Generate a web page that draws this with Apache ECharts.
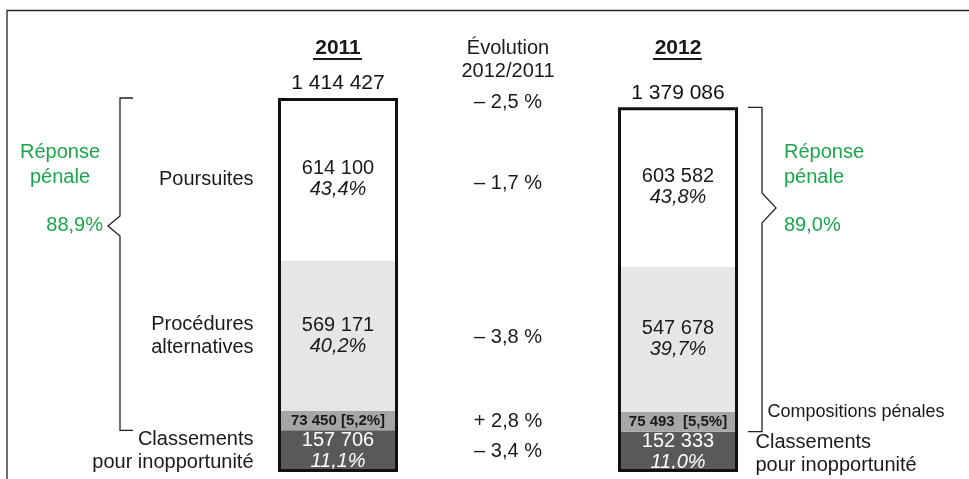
<!DOCTYPE html>
<html>
<head>
<meta charset="utf-8">
<script src="https://cdn.jsdelivr.net/npm/echarts@6/dist/echarts.min.js"></script>
<style>html,body{margin:0;padding:0;background:#fff}</style>
</head>
<body>
<div id="MyChart" style="width:969px;height:479px"></div>
<script>
// slots of the category axis : left notes, 2011, evolution column, 2012, right notes
const categories = ['g', '2011', 'evol', '2012', 'd'];
const totals = [1414427, 1379086];
const poursuites = [614100, 603582];
const procedures = [569171, 547678];
const compositions = [73450, 75493];
const classements = [157706, 152333];
const poursuitesPct = ['43,4%', '43,8%'];
const proceduresPct = ['40,2%', '39,7%'];
const compositionsPct = ['5,2%', '5,5%'];
const classementsPct = ['11,1%', '11,0%'];
// total, poursuites, procédures, compositions, classements
const evolution = ['– 2,5 %', '– 1,7 %', '– 3,8 %', '+ 2,8 %', '– 3,4 %'];
const reponsePenale = ['88,9%', '89,0%'];
const notesGauche = ['Poursuites', 'Procédures\nalternatives', 'Classements\npour inopportunité'];
const notesDroite = ['Compositions pénales', 'Classements\npour inopportunité'];

const FONT = "'Liberation Sans', Arial, Helvetica, sans-serif";
const GREEN = '#1aa64a';

function fmt (n) { return String(n).replace(/\B(?=(\d{3})+(?!\d))/g, ' ') }
function onBars (arr) { return ['-', arr[0], '-', arr[1], '-'] }
function yearIdx (dataIndex) { return dataIndex === 1 ? 0 : 1 }

// milieux des segments empilés (de bas en haut)
function mids (i) {
  const b1 = classements[i]
  const b2 = b1 + compositions[i]
  const b3 = b2 + procedures[i]
  const top = b3 + poursuites[i]
  return { classements: b1 / 2, compositions: (b1 + b2) / 2, procedures: (b2 + b3) / 2, poursuites: (b3 + top) / 2, b1: b1, top: top }
}
const m0 = mids(0)
const m1 = mids(1)

function segment (name, values, pcts, color, white) {
  return {
    name: name,
    type: 'bar',
    stack: 'total',
    barWidth: 120,
    barGap: '-100%',
    data: onBars(values),
    itemStyle: { color: color },
    label: {
      show: true,
      position: 'inside',
      fontFamily: FONT,
      formatter: p => {
        const i = yearIdx(p.dataIndex)
        return '{v|' + fmt(values[i]) + '}\n{p|' + pcts[i] + '}'
      },
      rich: {
        v: { fontFamily: FONT, fontSize: 20, lineHeight: 21, color: white ? '#fff' : '#1a1a1a' },
        p: { fontFamily: FONT, fontSize: 20, lineHeight: 21, fontStyle: 'italic', color: white ? '#fff' : '#1a1a1a' }
      }
    }
  }
}

function note (x, y, text, pos, dist, size, offset) {
  return {
    value: [x, y],
    label: {
      show: true, position: pos, distance: dist, offset: offset || [0, 0], formatter: text,
      fontFamily: FONT, fontSize: size || 20, lineHeight: 23, color: '#1a1a1a'
    }
  }
}

const myChart = echarts.init(document.getElementById('MyChart'))

const compSeries = segment('Compositions pénales', compositions, compositionsPct, '#a6a6a8', false)
compSeries.label.formatter = p => {
  const i = yearIdx(p.dataIndex)
  return '{b|' + fmt(compositions[i]) + (i === 0 ? ' [' : '  [') + compositionsPct[i] + ']}'
}
compSeries.label.rich = { b: { fontFamily: FONT, fontSize: 15, fontWeight: 'bold', color: '#1a1a1a' } }

const option = {
  animation: false,
  backgroundColor: '#fff',
  grid: { left: 83, right: 36, top: 98, bottom: 7 },
  xAxis: {
    type: 'category',
    data: categories,
    position: 'top',
    axisLine: { show: false },
    axisTick: { show: false },
    axisLabel: {
      interval: 0,
      margin: 61,
      verticalAlign: 'top',
      formatter: v => {
        if (v === '2011' || v === '2012') return '{y|' + v + '}'
        if (v === 'evol') return '{e|Évolution}\n{e|2012/2011}'
        return ''
      },
      rich: {
        y: { fontFamily: FONT, fontSize: 21, fontWeight: 'bold', color: '#1a1a1a', lineHeight: 23 },
        e: { fontFamily: FONT, fontSize: 20, color: '#1a1a1a', lineHeight: 23 }
      }
    }
  },
  yAxis: { type: 'value', min: 0, max: totals[0], show: false },
  series: [
    segment('Classements pour inopportunité', classements, classementsPct, '#58595b', true),
    compSeries,
    segment('Procédures alternatives', procedures, proceduresPct, '#e6e6e7', false),
    segment('Poursuites', poursuites, poursuitesPct, '#ffffff', false),
    {
      name: 'Total',
      type: 'bar',
      barWidth: 120,
      barGap: '-100%',
      z: 5,
      data: onBars(totals),
      itemStyle: { color: 'rgba(0,0,0,0)', borderColor: '#111', borderWidth: 3 },
      label: {
        show: true,
        position: 'top',
        distance: 4,
        fontFamily: FONT,
        fontSize: 21,
        color: '#111',
        formatter: p => fmt(totals[yearIdx(p.dataIndex)])
      }
    },
    {
      name: 'notes',
      type: 'scatter',
      symbolSize: 1,
      itemStyle: { color: 'rgba(0,0,0,0)', opacity: 1 },
      z: 6,
      data: [
        note(1, m0.poursuites, notesGauche[0], 'left', 84),
        note(1, m0.procedures, notesGauche[1], 'left', 84),
        note(1, m0.classements, notesGauche[2], 'left', 84),
        note(3, m1.compositions, notesDroite[0], 'right', 89, 18, [0, -10]),
        note(3, m1.classements, notesDroite[1], 'right', 77, 20, [0, 2]),
        note(2, totals[0], evolution[0], 'inside', 0, 20, [0, 4]),
        note(2, (m0.poursuites + m1.poursuites) / 2, evolution[1], 'inside', 0),
        note(2, (m0.procedures + m1.procedures) / 2, evolution[2], 'inside', 0),
        note(2, (m0.compositions + m1.compositions) / 2, evolution[3], 'inside', 0),
        note(2, (m0.classements + m1.classements) / 2, evolution[4], 'inside', 0)
      ]
    }
  ]
}
myChart.setOption(option)

// accolades, soulignements et cadre, placés à partir des échelles
const px = (x, y) => myChart.convertToPixel({ gridIndex: 0 }, [x, y])
const x2011 = px(1, 0)[0]
const x2012 = px(3, 0)[0]
const lTop = px(1, m0.top)[1]
const lBot = px(1, m0.b1)[1]
const rTop = px(3, m1.top)[1]
const rBot = px(3, m1.b1)[1]
const lx = x2011 - 218
const rx = x2012 + 84
const lMid = lTop + (lBot - lTop) * 0.385
const rMid = rTop + (rBot - rTop) * 0.31
const txt = (x, y, text, align) => ({
  type: 'text', x: x, y: y,
  style: { text: text, fill: GREEN, font: '20px ' + FONT, align: align, verticalAlign: 'middle', lineHeight: 25 }
})
const line = pts => ({ type: 'polyline', shape: { points: pts }, style: { stroke: '#222', lineWidth: 1.3, fill: null } })

myChart.setOption({
  graphic: [
    line([[7, 479], [7, 10.5], [969, 10.5]]),
    { type: 'line', shape: { x1: x2011 - 25, y1: 59, x2: x2011 + 24, y2: 59 }, style: { stroke: '#1a1a1a', lineWidth: 2 } },
    { type: 'line', shape: { x1: x2012 - 25, y1: 59, x2: x2012 + 24, y2: 59 }, style: { stroke: '#1a1a1a', lineWidth: 2 } },
    line([[lx + 13, lTop], [lx, lTop], [lx, lMid - 10], [lx - 12, lMid], [lx, lMid + 10], [lx, lBot], [lx + 13, lBot]]),
    line([[rx - 14, rTop], [rx, rTop], [rx, rMid - 15], [rx + 14, rMid], [rx, rMid + 15], [rx, rBot], [rx - 14, rBot]]),
    txt(60, lMid - 61, 'Réponse\npénale', 'center'),
    txt(103, lMid, reponsePenale[0], 'right'),
    txt(784, lMid - 61, 'Réponse\npénale', 'left'),
    txt(784, lMid, reponsePenale[1], 'left')
  ]
})
</script>
</body>
</html>
